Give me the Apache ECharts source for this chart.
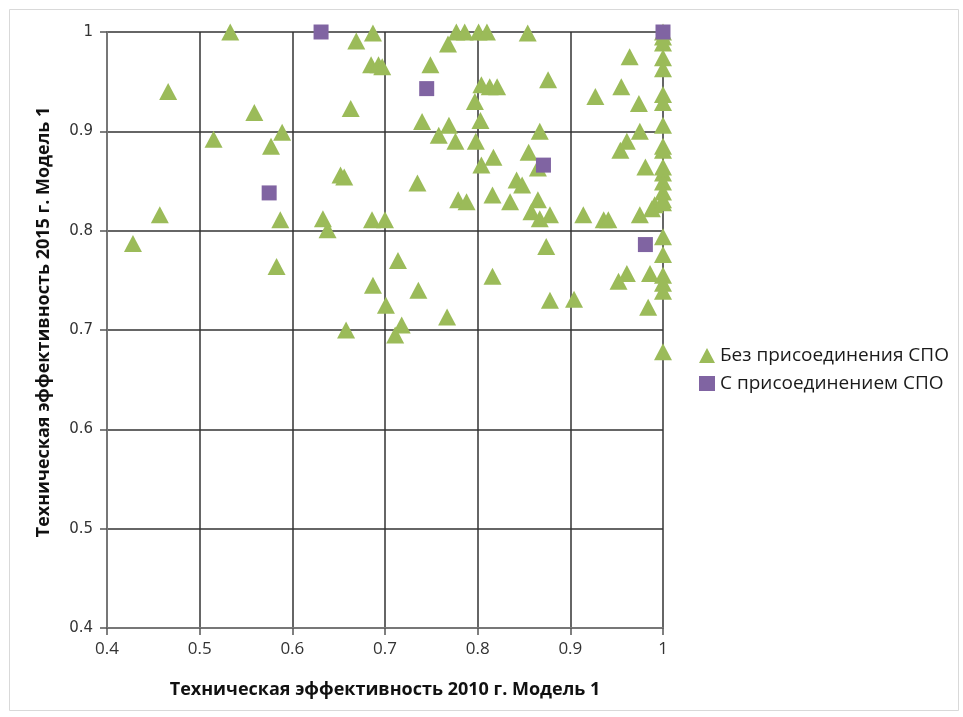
<!DOCTYPE html>
<html><head><meta charset="utf-8">
<script src="https://cdn.jsdelivr.net/npm/echarts@6/dist/echarts.min.js"></script>
<style>html,body{margin:0;padding:0;background:#fff}#c{width:963px;height:717px}</style>
</head><body><div id="c"></div>
<script>
const xTicks = [0.4,0.5,0.6,0.7,0.8,0.9,1];
const yTicks = [0.4,0.5,0.6,0.7,0.8,0.9,1];
const seriesNames = ['Без присоединения СПО','С присоединением СПО'];
const xTitle = 'Техническая эффективность 2010 г. Модель 1';
const yTitle = 'Техническая эффективность 2015 г. Модель 1';
// Без присоединения СПО
const noJoin = [
 [0.533,1.0],[0.466,0.940],[0.559,0.919],[0.515,0.892],[0.589,0.899],[0.577,0.885],
 [0.457,0.816],[0.428,0.787],[0.587,0.811],[0.583,0.764],[0.633,0.812],[0.638,0.801],
 [0.652,0.856],[0.656,0.854],[0.663,0.923],[0.669,0.991],[0.687,0.999],
 [0.685,0.967],[0.693,0.967],[0.697,0.965],[0.686,0.811],[0.700,0.811],[0.687,0.745],
 [0.714,0.770],[0.736,0.740],[0.701,0.725],[0.658,0.700],[0.718,0.705],[0.711,0.695],
 [0.767,0.713],[0.735,0.848],[0.740,0.910],[0.749,0.967],[0.758,0.896],[0.769,0.906],
 [0.776,0.890],[0.768,0.988],[0.777,1.0],[0.786,1.0],[0.801,1.0],[0.810,1.0],
 [0.779,0.831],[0.788,0.829],[0.797,0.930],[0.804,0.947],[0.813,0.945],[0.821,0.945],
 [0.803,0.911],[0.798,0.890],[0.804,0.866],[0.816,0.836],[0.817,0.874],[0.854,0.999],
 [0.876,0.952],[0.855,0.879],[0.867,0.900],[0.865,0.863],[0.842,0.851],[0.848,0.846],
 [0.835,0.829],[0.865,0.831],[0.858,0.819],[0.867,0.812],[0.878,0.816],[0.874,0.784],
 [0.878,0.730],[0.904,0.731],[0.816,0.754],[0.914,0.816],[0.936,0.811],[0.941,0.811],
 [0.975,0.816],[0.954,0.881],[0.961,0.890],[0.981,0.864],[0.964,0.975],[0.955,0.945],
 [0.927,0.935],[0.974,0.928],[0.975,0.900],[0.991,0.826],[0.988,0.822],[0.952,0.749],
 [0.961,0.757],[0.986,0.757],[0.984,0.723],
 [1,1.0],[1,0.995],[1,0.989],[1,0.974],[1,0.963],[1,0.937],[1,0.929],[1,0.906],
 [1,0.885],[1,0.881],[1,0.864],[1,0.858],[1,0.849],[1,0.839],[1,0.831],[1,0.828],
 [1,0.794],[1,0.776],[1,0.755],[1,0.747],[1,0.739],[1,0.678]
];
// С присоединением СПО
const withJoin = [
 [0.631,1.0],[0.745,0.943],[0.575,0.838],[0.871,0.866],[0.981,0.786],[1.0,1.0]
];

const chart = echarts.init(document.getElementById('c'), null, {renderer:'canvas'});
chart.setOption({
  animation:false,
  backgroundColor:'#fff',
  graphic:[{type:'rect',left:7,top:7,shape:{width:949,height:701},style:{fill:'none',stroke:'#d9d9d9',lineWidth:1},silent:true}],
  grid:{left:107,right:300,top:32,bottom:89},
  legend:{
    orient:'vertical',left:694,top:341,itemGap:9,itemWidth:16,itemHeight:15,
    textStyle:{fontFamily:'Open Sans',fontSize:19,color:'#1a1a1a'},
    data:[{name:seriesNames[0],icon:'triangle'},{name:seriesNames[1],icon:'rect'}]
  },
  xAxis:{
    type:'value',min:0.4,max:1,interval:0.1,
    name:xTitle,nameLocation:'middle',nameGap:53,
    nameTextStyle:{fontFamily:'Open Sans',fontWeight:'bold',fontSize:18,color:'#111'},
    axisLine:{show:true,onZero:false,lineStyle:{color:'#777',width:2}},
    axisTick:{show:true,length:7,lineStyle:{color:'#555',width:1.5}},
    axisLabel:{fontFamily:'Open Sans',fontSize:17,color:'#333',margin:13,
      formatter:v=>{const t=xTicks.find(a=>Math.abs(a-v)<1e-6);return t===undefined?'':String(t);}},
    splitLine:{show:true,lineStyle:{color:'#333',width:1.5}}
  },
  yAxis:{
    type:'value',min:0.4,max:1,interval:0.1,
    name:yTitle,nameLocation:'middle',nameGap:54,nameRotate:90,
    nameTextStyle:{fontFamily:'Open Sans',fontWeight:'bold',fontSize:18,color:'#111',padding:[0,0,0,16]},
    axisLine:{show:true,onZero:false,lineStyle:{color:'#777',width:2}},
    axisTick:{show:true,length:7,lineStyle:{color:'#555',width:1.5}},
    axisLabel:{fontFamily:'DejaVu Sans',fontSize:15,color:'#333',margin:14,
      formatter:v=>{const t=yTicks.find(a=>Math.abs(a-v)<1e-6);return t===undefined?'':String(t);}},
    splitLine:{show:true,lineStyle:{color:'#333',width:1.5}}
  },
  series:[
    {name:seriesNames[0],type:'scatter',symbol:'triangle',symbolSize:[18,17],
     itemStyle:{color:'#9BBB59',opacity:1},data:noJoin,clip:false},
    {name:seriesNames[1],type:'scatter',symbol:'rect',symbolSize:15,
     itemStyle:{color:'#8064A2',opacity:1},data:withJoin,clip:false}
  ]
});
</script></body></html>
